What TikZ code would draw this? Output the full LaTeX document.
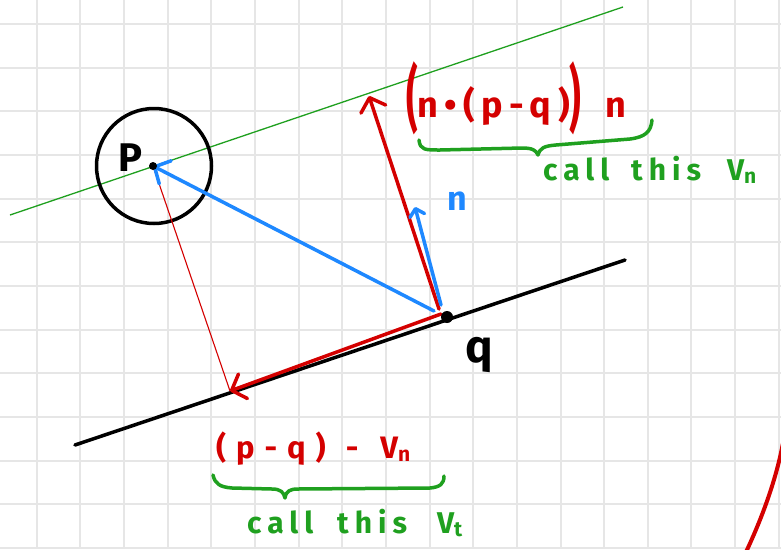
\documentclass[tikz,border=0pt]{standalone}
\usepackage{fontspec}
\usepackage{graphicx}
\setmainfont{Fira Sans}
\usetikzlibrary{arrows.meta}
\definecolor{gridc}{HTML}{E6E6E6}
\definecolor{inkred}{HTML}{D40000}
\definecolor{inkblue}{HTML}{1E88FF}
\definecolor{inkgreen}{HTML}{1FA01F}
\newcommand{\tallparen}[1]{\raisebox{-6pt}{\scalebox{1}[2.0]{#1}}}
\newcommand{\lowsub}[1]{\raisebox{-3pt}{\fontsize{21}{21}\selectfont #1}}
\begin{document}
\begin{tikzpicture}[x=1pt,y=-1pt,
  gridline/.style={draw=gridc,line width=2pt},
  ink/.style={line width=3.5pt,line cap=round,line join=round},
  barb/.style={-{Straight Barb[length=12pt,width=26pt,line cap=round,line join=round]}},
  smallbarb/.style={-{Straight Barb[length=7pt,width=15pt,line cap=round,line join=round]}},
  lbl/.style={inner sep=0pt,anchor=center,font=\bfseries},
  txt/.style={inner sep=0pt,anchor=base west}
]
\useasboundingbox (0,0) rectangle (781,549);
\fill[white] (0,0) rectangle (781,549);
\foreach \i in {0,...,17} \draw[gridline] ({36.7+\i*43.65},0) -- ({36.7+\i*43.65},549);
\foreach \j in {0,...,12} \draw[gridline] (0,{24+\j*43.65}) -- (781,{24+\j*43.65});

% key points
\coordinate (L1) at (75,445);
\coordinate (L2) at (625,260);
\coordinate (G1) at (10,215);
\coordinate (G2) at (623,7);
\coordinate (q) at (447,317);
\coordinate (p) at (153,166);
\coordinate (t) at (230,391);
\coordinate (vn) at (369,96);
\coordinate (nt) at (415,207);
\coordinate (qblue) at (434,311);
\coordinate (qn) at (441,305);
\coordinate (qred) at (439,309);
\coordinate (qt) at (441,314);

% lines
\draw[inkgreen,line width=1.3pt] (G1) -- (G2);
\draw[ink] (L1) -- (L2);
\node[circle,draw,line width=3.5pt,minimum size=115pt,inner sep=0pt] (ball) at (154,166) {};

% vectors
\draw[inkred,line width=1.1pt] (p) -- (t);
\draw[ink,inkblue,barb] (qblue) -- (p);
\draw[ink,inkred,barb] (qred) -- (vn);
\draw[ink,inkblue,smallbarb] (qn) -- (nt);
\draw[ink,inkred,barb] (qt) -- (t);

\fill (p) circle (4pt);
\fill (q) circle (6pt);

% arc at bottom right
\draw[ink,inkred,line width=4pt] (746,552) .. controls (762,518) and (776,480) .. (783,443);

% labels
\node[lbl,font=\bfseries\fontsize{40}{42}\selectfont] (plabel) at (130,158) {P};
\node[lbl,font=\bfseries\fontsize{46}{48}\selectfont] (qlabel) at (479,355) {q};
\node[lbl,font=\bfseries\fontsize{34}{36}\selectfont,text=inkblue] (nlabel) at (457,201) {n};

\node[txt,font=\bfseries\fontsize{36}{38}\selectfont,text=inkred] (vnexpr) at (406,117)
  {\tallparen{(}{\addfontfeature{LetterSpace=19}n\,\textbullet\,(p\,-\,q)}\tallparen{)}\hspace{24pt}n};
\node[txt,font=\bfseries\fontsize{30}{32}\selectfont,text=inkgreen] (calln) at (543,180)
  {{\addfontfeature{LetterSpace=20}call}\hspace{22pt}{\addfontfeature{LetterSpace=20}this}\hspace{26pt}V\lowsub{n}};

\node[txt,font=\bfseries\fontsize{31}{33}\selectfont,text=inkred] (vtexpr) at (216,458)
  {{\addfontfeature{LetterSpace=32}(p-q)}\hspace{20pt}-\hspace{22pt}V\lowsub{n}};
\node[txt,font=\bfseries\fontsize{30}{32}\selectfont,text=inkgreen] (callt) at (247,533)
  {{\addfontfeature{LetterSpace=20}call}\hspace{24pt}{\addfontfeature{LetterSpace=20}this}\hspace{30pt}V\lowsub{t}};

% braces
\draw[ink,inkgreen] (419,140) .. controls (420,150) and (425,150) .. (440,150) -- (522,148)
  .. controls (532,148) and (536,150) .. (538,155) .. controls (540,148) and (544,146) .. (556,145)
  -- (630,139) .. controls (645,137) and (651,132) .. (652,120);
\draw[ink,inkgreen] (213,475) .. controls (215,484) and (220,487) .. (232,488) -- (272,489)
  .. controls (280,489) and (284,492) .. (285,498) .. controls (286,491) and (290,489) .. (298,489)
  -- (430,488) .. controls (440,487) and (444,484) .. (444,476);
\end{tikzpicture}
\end{document}
